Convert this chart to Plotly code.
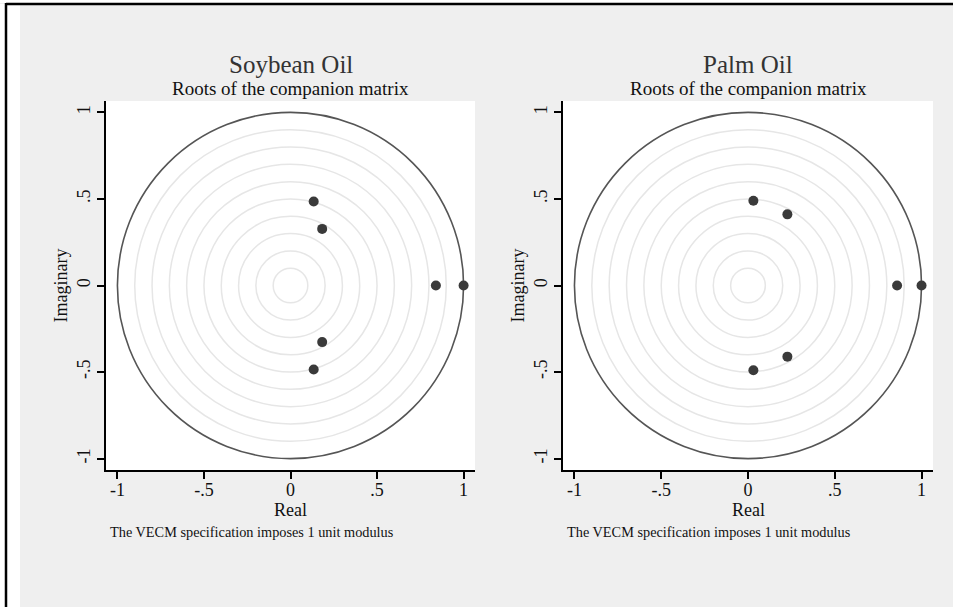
import plotly.graph_objects as go

# ---- data ----
panel_titles = ["Soybean Oil", "Palm Oil"]
subtitle = "Roots of the companion matrix"
note = "The VECM specification imposes 1 unit modulus"
x_title = "Real"
y_title = "Imaginary"

soy_real = [0.134, 0.134, 0.183, 0.183, 0.840, 1.000]
soy_imag = [0.485, -0.485, 0.327, -0.327, 0.0, 0.0]

palm_real = [0.031, 0.031, 0.227, 0.227, 0.859, 1.000]
palm_imag = [0.490, -0.490, 0.411, -0.411, 0.0, 0.0]

grid_radii = [0.1, 0.2, 0.3, 0.4, 0.5, 0.6, 0.7, 0.8, 0.9]
unit_radius = 1.0

tick_vals = [-1, -0.5, 0, 0.5, 1]
tick_text = ["-1", "-.5", "0", ".5", "1"]

# ---- layout constants ----
W, H = 953, 607
FONT = "Liberation Serif"
BG = "#efefef"
RNG = [-1.066, 1.066]

def px_x(p):
    return p / W

def px_y(p):
    return 1 - p / H

panel_x = [(106, 475), (563, 933)]
panel_y = (101, 470)

fig = go.Figure()
series = [(soy_real, soy_imag), (palm_real, palm_imag)]

for i, (re, im) in enumerate(series):
    xa = "x" if i == 0 else "x2"
    ya = "y" if i == 0 else "y2"
    fig.add_trace(go.Scatter(
        x=re, y=im, mode="markers", xaxis=xa, yaxis=ya,
        marker=dict(size=10, color="#3a3a3a"), showlegend=False,
        hoverinfo="x+y"))

axis_common = dict(
    range=RNG, showgrid=False, zeroline=False, showline=True,
    linecolor="black", linewidth=1.5, ticks="outside", ticklen=7,
    tickwidth=1.5, tickcolor="black", tickvals=tick_vals, ticktext=tick_text,
    tickfont=dict(family=FONT, size=18, color="#111"), fixedrange=True,
)

layout_axes = {}
for i in range(2):
    sx = "" if i == 0 else "2"
    x0, x1 = panel_x[i]
    layout_axes["xaxis" + sx] = dict(
        axis_common, domain=[px_x(x0), px_x(x1)], anchor="y" + sx,
        ticklabelstandoff=-4,
    )
    layout_axes["yaxis" + sx] = dict(
        axis_common, domain=[px_y(panel_y[1]), px_y(panel_y[0])], anchor="x" + sx,
        tickangle=-90,
        title=dict(text=y_title, font=dict(family=FONT, size=18, color="#111"), standoff=2),
    )

shapes = []
for i in range(2):
    xr = "x" if i == 0 else "x2"
    yr = "y" if i == 0 else "y2"
    for r in grid_radii:
        shapes.append(dict(type="circle", xref=xr, yref=yr, x0=-r, x1=r, y0=-r, y1=r,
                           line=dict(color="#e6e6e6", width=1.5), layer="below"))
    shapes.append(dict(type="circle", xref=xr, yref=yr, x0=-unit_radius, x1=unit_radius,
                       y0=-unit_radius, y1=unit_radius,
                       line=dict(color="#555555", width=1.6), layer="below"))

# outer frame decoration
shapes.append(dict(type="rect", xref="paper", yref="paper", x0=0, x1=px_x(20), y0=0, y1=px_y(4),
                   fillcolor="white", line=dict(width=0), layer="below"))
shapes.append(dict(type="rect", xref="paper", yref="paper", x0=0, x1=1, y0=px_y(3), y1=1,
                   fillcolor="white", line=dict(width=0), layer="below"))
shapes.append(dict(type="line", xref="paper", yref="paper", x0=px_x(6), x1=px_x(6), y0=0, y1=px_y(3),
                   line=dict(color="black", width=2.5)))
shapes.append(dict(type="line", xref="paper", yref="paper", x0=px_x(6), x1=1, y0=px_y(4), y1=px_y(4),
                   line=dict(color="black", width=2.5)))

annotations = []
for i in range(2):
    x0, x1 = panel_x[i]
    cx = (x0 + x1) / 2
    annotations.append(dict(text=panel_titles[i], xref="paper", yref="paper",
                            x=px_x(cx), y=px_y(65), showarrow=False, xanchor="center", yanchor="middle",
                            font=dict(family=FONT, size=25, color="#333")))
    annotations.append(dict(text=subtitle, xref="paper", yref="paper",
                            x=px_x(cx), y=px_y(89), showarrow=False, xanchor="center", yanchor="middle",
                            font=dict(family=FONT, size=19, color="#111")))
    annotations.append(dict(text=x_title, xref="paper", yref="paper",
                            x=px_x(cx), y=px_y(510), showarrow=False, xanchor="center", yanchor="middle",
                            font=dict(family=FONT, size=18, color="#111")))
    annotations.append(dict(text=note, xref="paper", yref="paper",
                            x=px_x(x0 + 2), y=px_y(532), showarrow=False, xanchor="left", yanchor="middle",
                            font=dict(family=FONT, size=14.3, color="#111")))

fig.update_layout(
    width=W, height=H, margin=dict(l=0, r=0, t=0, b=0),
    paper_bgcolor=BG, plot_bgcolor="white",
    shapes=shapes, annotations=annotations, showlegend=False,
    **layout_axes,
)

fig.write_html("out.html", config={"displayModeBar": False},
               post_script="document.body.style.margin='0';")
